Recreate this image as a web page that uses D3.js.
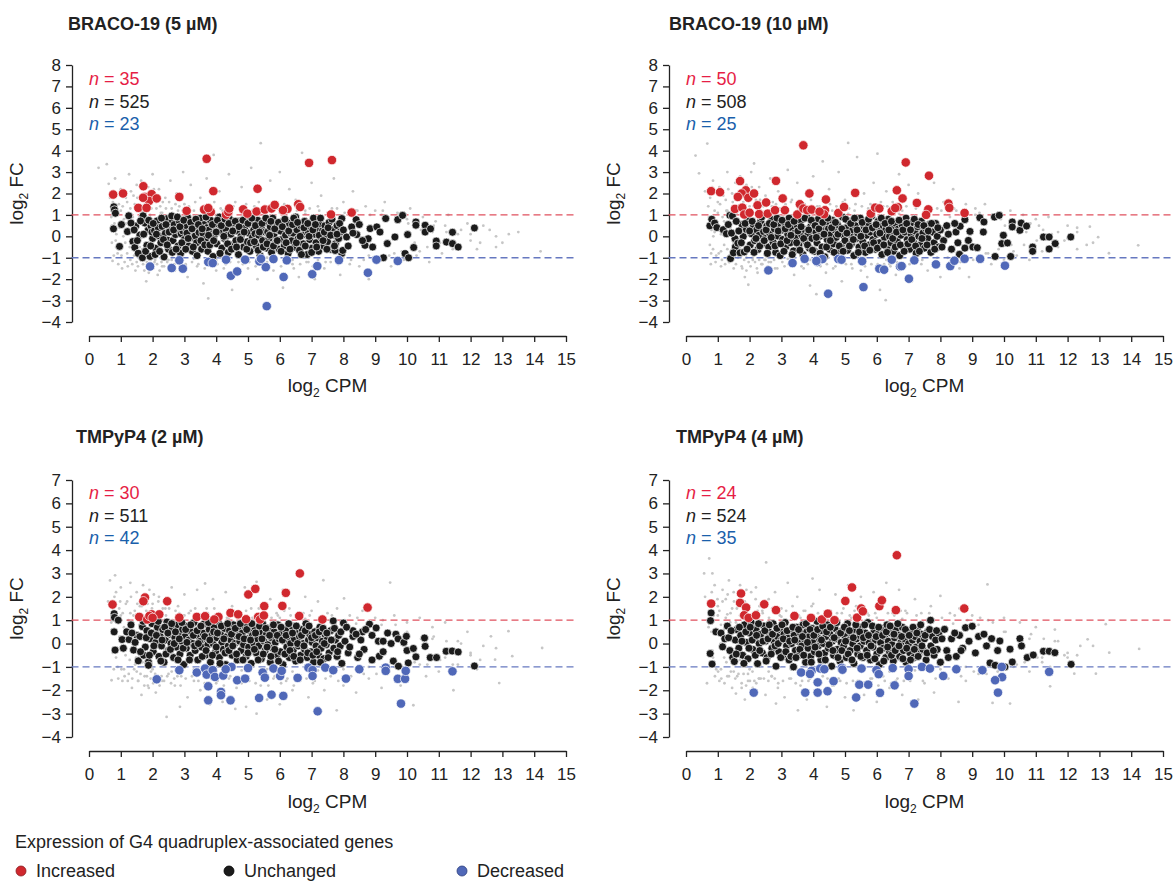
<!DOCTYPE html>
<meta charset="utf-8">
<head>
<script src="https://d3js.org/d3.v7.min.js"></script>
<style>
  body { margin: 0; background: #fff; }
</style>
</head>
<body>

<div id="container"></div>

<script>

// ---- data: [log2 CPM, log2 FC] ----

var titles = ["BRACO-19 (5 µM)", "BRACO-19 (10 µM)", "TMPyP4 (2 µM)", "TMPyP4 (4 µM)"];
// n increased / unchanged / decreased
var counts = [[35, 525, 23], [50, 508, 25], [30, 511, 42], [24, 524, 35]];

var xTicks = [0,1,2,3,4,5,6,7,8,9,10,11,12,13,14,15];
var yTicksTop = [-4,-3,-2,-1,0,1,2,3,4,5,6,7,8];
var yTicksBottom = [-4,-3,-2,-1,0,1,2,3,4,5,6,7];

var legendLabels = ["Increased", "Unchanged", "Decreased"];

// BRACO-19 (5 µM)
var b5Red = [[0.76,1.95],[1.07,2.0],[1.71,2.34],[1.76,1.84],[1.97,1.97],[1.89,1.65],[2.13,1.77],[1.55,1.33],[1.81,1.33],[2.84,1.84],[3.07,1.19],[3.70,3.62],[3.62,1.25],[3.83,1.14],[3.91,2.11],[4.31,1.01],[4.38,1.14],[4.41,1.30],[4.85,1.26],[4.98,1.06],[5.30,2.22],[5.27,1.16],[5.53,1.25],[5.74,1.30],[5.84,1.47],[6.24,1.28],[6.58,1.50],[6.64,1.37],[6.92,3.43],[7.64,3.56],[7.61,1.02],[8.26,1.11],[3.75,1.32],[6.1,1.22],[1.7,1.8]];
var b5Blue = [[1.92,-1.41],[2.60,-1.48],[2.95,-1.51],[2.84,-1.12],[3.75,-1.20],[3.89,-1.25],[4.31,-1.09],[4.46,-1.84],[4.66,-1.64],[4.91,-1.09],[5.36,-1.17],[5.41,-1.05],[5.56,-1.44],[5.59,-3.26],[5.80,-1.06],[6.12,-1.90],[6.22,-1.12],[7.18,-1.39],[7.02,-1.77],[7.86,-1.11],[8.77,-1.70],[9.04,-1.09],[9.71,-1.15]];
var b5Black = [[0.78,1.38],[0.8,1.24],[0.83,1.08],[0.77,0.35],[1.02,0.55],[0.96,-0.47],[1.21,0.22],[1.25,0.96],[1.38,-0.24],[1.47,0.48],[1.44,-0.52],[1.55,-0.8],[1.6,0.06],[1.68,-1.0],[1.7,0.96],[1.76,0.62],[1.82,-0.42],[1.86,0.28],[1.92,-0.94],[1.95,0.48],[2.0,-0.1],[1.98,0.2],[2.06,0.26],[2.1,-0.56],[2.14,0.72],[2.2,0.02],[2.18,0.4],[2.26,-0.3],[2.3,0.46],[2.36,-0.96],[2.4,0.14],[2.44,0.82],[2.48,-0.18],[2.5,-0.6],[2.55,0.35],[2.58,0.62],[2.6,0.95],[2.64,-0.2],[2.68,0.55],[2.72,0.08],[2.76,0.3],[2.8,-0.45],[2.84,0.7],[2.88,-0.8],[2.9,0.12],[2.95,0.25],[3.0,-0.15],[3.02,0.4],[3.06,0.5],[3.1,0.88],[3.14,-0.45],[3.18,0.2],[3.22,-0.05],[3.25,-0.7],[3.3,0.6],[3.34,0.02],[3.38,-0.3],[3.42,0.35],[3.46,0.18],[3.5,0.85],[3.54,-0.6],[3.58,0.15],[3.62,0.55],[3.66,-0.14],[3.7,0.4],[3.74,-0.7],[3.78,0.3],[3.82,0.75],[3.86,0.1],[3.9,-0.94],[3.94,0.05],[3.98,0.45],[4.02,-0.35],[4.06,0.25],[4.1,0.9],[4.14,0.2],[4.18,-0.55],[4.22,0.6],[4.26,-0.1],[4.3,0.35],[4.34,0.05],[4.38,-0.75],[4.42,0.8],[4.46,0.1],[4.5,-0.4],[4.54,0.5],[4.58,0.28],[4.62,-0.2],[4.66,0.25],[4.7,-0.85],[4.74,0.7],[4.78,0.0],[4.82,0.44],[4.86,-0.5],[4.9,0.4],[4.94,0.92],[4.98,-0.25],[5.02,0.15],[5.06,-0.7],[5.1,0.55],[5.14,-0.05],[5.18,0.3],[5.22,0.12],[5.26,-0.45],[5.3,0.75],[5.34,0.05],[5.38,-0.9],[5.42,0.4],[5.46,-0.2],[5.5,0.65],[5.54,0.2],[5.58,-0.55],[5.62,0.2],[5.66,-0.1],[5.7,0.45],[5.74,-0.75],[5.78,0.85],[5.82,0.1],[5.86,-0.35],[5.9,0.55],[5.94,0.3],[5.98,-0.6],[6.02,0.25],[6.06,-0.15],[6.1,0.7],[6.14,-0.45],[6.18,0.05],[6.22,0.4],[6.26,-0.8],[6.3,0.6],[6.34,0.15],[6.38,-0.2],[6.42,0.15],[6.46,-0.5],[6.5,0.9],[6.54,0.3],[6.58,-0.1],[6.62,-0.65],[6.66,0.5],[6.7,0.05],[6.74,-0.35],[6.78,0.7],[6.82,0.2],[6.86,-0.85],[6.9,0.2],[6.94,-0.15],[6.98,0.45],[7.02,-0.55],[7.06,0.85],[7.1,0.1],[7.14,-0.3],[7.18,0.35],[7.22,-0.7],[7.26,0.6],[7.3,-0.05],[7.34,0.25],[7.38,-0.45],[7.42,0.5],[7.46,0.0],[7.5,-0.25],[7.55,0.65],[7.6,-0.6],[7.65,0.3],[7.7,0.05],[7.75,-0.35],[7.8,0.5],[7.85,-0.1],[7.9,0.2],[7.95,-0.8],[7.95,0.83],[7.74,-0.66],[7.98,-0.66],[8.1,-0.03],[8.26,0.44],[8.4,0.78],[8.42,0.08],[8.68,-0.42],[8.78,-0.11],[8.84,0.36],[8.92,-0.5],[9.05,0.44],[9.15,0.2],[9.26,-1.0],[9.33,0.83],[9.38,-0.34],[9.62,-0.03],[9.71,0.78],[9.86,0.98],[9.94,-0.81],[10.02,0.08],[10.05,-1.0],[10.21,-0.52],[10.28,0.67],[10.28,0.52],[10.57,0.52],[10.57,0.2],[10.74,0.35],[10.92,-0.22],[10.92,-0.45],[11.24,-0.27],[11.43,0.19],[11.43,-0.34],[11.61,-0.5],[12.12,0.39],
  [1.32,0.62],[1.42,0.3],[1.52,-0.2],[1.62,0.72],[1.72,0.1],[1.78,-0.7],[1.88,0.75],[1.94,-0.45],[2.02,0.6],[2.08,-0.85],[2.12,0.1],[2.22,-0.7],[2.28,0.85],[2.34,-0.15],[2.42,0.55],[2.46,-0.4],[2.52,0.2],[2.62,-0.75],[2.66,0.3],[2.74,-0.6],[2.78,0.9],[2.86,0.45],[2.92,-0.3],[2.98,0.75],[3.04,-0.6],[3.08,0.15],[3.12,-0.1],[3.2,0.65],[3.24,0.35],[3.28,-0.5],[3.36,0.8],[3.4,-0.9],[3.44,0.55],[3.52,-0.2],[3.56,0.35],[3.64,-0.4],[3.68,0.9],[3.76,0.05],[3.8,-0.4],[3.88,0.55],[3.92,-0.2],[4.0,0.2],[4.04,0.75],[4.12,-0.8],[4.16,0.5],[4.24,0.0],[4.28,0.8],[4.36,-0.35],[4.4,0.6],[4.48,-0.6],[4.52,0.25],[4.6,0.7],[4.64,-0.5],[4.72,0.45],[4.76,-0.15],[4.84,0.75],[4.88,0.2],[4.96,-0.6],[5.0,0.6],[5.08,-0.3],[5.12,0.85],[5.2,-0.25],[5.24,0.5],[5.32,-0.65],[5.36,0.2],[5.44,0.6],[5.48,-0.5],[5.56,0.85],[5.6,-0.35],[5.68,0.05],[5.72,0.7],[5.8,-0.45],[5.84,0.35],[5.92,-0.2],[5.96,0.65],[6.04,-0.7],[6.08,0.45],[6.16,0.8],[6.2,-0.3],[6.28,0.25],[6.32,-0.6],[6.4,0.55],[6.44,0.85],[6.52,-0.3],[6.56,0.65],[6.64,0.0],[6.68,-0.85],[6.76,0.4],[6.8,-0.45],[6.88,0.6],[6.92,0.0],[7.0,-0.75],[7.04,0.3],[7.12,0.55],[7.16,-0.5],[7.24,0.05],[7.28,0.85],[7.36,-0.2],[7.4,0.2],[7.48,-0.6],[7.52,0.4],[7.6,0.05],[7.64,0.8],[7.72,-0.45],[7.8,0.1],[7.88,0.6],[8.0,0.3],[8.15,-0.45],[8.3,0.15],[8.5,0.55],[8.6,-0.2]];
var b5Grey = [[0.3,3.2],[0.56,3.37],[0.62,2.45],[0.66,1.8],[0.7,0.9],[0.72,-0.3],[0.74,-1.15],[0.82,2.7],[0.86,0.1],[0.9,-0.8],[0.94,1.5],[1.0,2.2],[1.04,-1.5],[1.1,0.8],[1.14,-0.3],[1.2,1.6],[1.26,2.9],[1.3,-1.1],[1.34,0.5],[1.4,1.9],[1.46,-1.6],[1.5,2.4],[1.56,1.2],[1.6,-0.5],[1.64,2.6],[1.7,-1.3],[1.76,1.5],[1.8,-2.1],[1.86,2.3],[1.9,-1.5],[1.96,1.3],[2.0,2.9],[2.06,-1.2],[2.1,1.6],[2.16,-1.8],[2.2,2.2],[2.26,1.1],[2.3,-1.4],[2.4,1.8],[2.5,-1.1],[2.56,2.6],[2.6,1.3],[2.7,-1.6],[2.76,2.0],[2.8,1.2],[2.9,-1.3],[2.96,3.0],[3.0,1.5],[3.1,-1.9],[3.2,2.4],[3.3,1.2],[3.4,-1.4],[3.5,1.8],[3.6,-2.2],[3.7,2.7],[3.75,-2.9],[3.8,1.3],[3.92,3.8],[4.0,-1.6],[4.1,2.1],[4.2,1.2],[4.3,-1.3],[4.4,2.9],[4.5,-2.5],[4.6,1.6],[4.7,-1.2],[4.8,2.3],[4.9,1.1],[5.0,-1.5],[5.1,3.2],[5.2,1.4],[5.3,-2.0],[5.4,4.35],[5.5,1.2],[5.6,-1.2],[5.7,2.6],[5.8,-1.6],[5.9,1.5],[6.0,3.0],[6.1,-2.4],[6.2,1.3],[6.3,2.2],[6.4,-1.3],[6.5,1.7],[6.6,-1.9],[6.7,3.9],[6.8,1.2],[6.9,-1.2],[7.0,2.5],[7.1,-2.0],[7.2,1.4],[7.3,1.9],[7.4,-1.5],[7.5,1.1],[7.6,-1.2],[7.7,2.7],[7.8,1.3],[7.9,-1.8],[8.0,1.6],[8.2,-1.3],[8.3,2.1],[8.4,1.2],[8.5,-1.4],[8.7,1.4],[8.8,-2.0],[9.0,1.2],[9.1,-1.2],[9.3,1.6],[9.5,-1.4],[9.7,1.1],[9.9,-1.1],[10.1,1.3],[10.3,-0.9],[10.5,0.9],[10.7,-1.2],[10.9,0.7],[11.1,-0.8],[11.3,1.0],[11.6,-0.4],[11.9,0.6],[12.2,-0.6],[12.6,0.3],[13.0,-0.3],[13.5,0.2],[14.2,-0.7],[0.8,0.6],[0.85,-0.5],[1.0,1.2],[1.2,-0.8],[1.3,1.3],[1.5,-1.2],[1.7,1.2],[2.0,-1.0],[2.3,1.1],[2.6,-1.1],[3.0,1.1],[3.3,-1.05],[3.6,1.1],[4.0,-1.1],[4.4,1.1],[4.8,-1.05],[5.2,1.05],[5.6,-1.0],[6.0,1.1],[6.4,-1.1],[6.8,1.05],[7.2,-1.1],[7.6,1.0],[8.0,-1.0],[8.4,0.9],[8.8,-0.9],[9.2,1.0],[9.6,-0.8],[10.0,0.8],[10.4,-0.7],[10.8,0.2],[11.2,0.5],[11.6,0.1],[12.0,-0.2],[12.4,0.5],[12.8,-0.5],[13.2,0.1],
  [0.72,0.5],[0.75,1.6],[0.78,-0.9],[0.8,2.1],[0.84,-0.2],[0.88,1.0],[0.92,-1.3],[0.96,0.4],[0.98,1.9],[1.02,-0.9],[1.06,1.4],[1.08,0.0],[1.12,-1.2],[1.16,1.8],[1.18,0.6],[1.22,-1.4],[1.24,1.1],[1.28,-0.5],[1.32,2.1],[1.36,-1.3],[1.38,0.9],[1.42,-0.9],[1.44,1.5],[1.48,-0.4],[1.52,1.8],[1.54,-1.4],[1.58,0.9],[1.62,-1.1],[1.66,1.7],[1.68,-0.6],[1.72,2.0],[1.74,-1.6],[1.78,1.1],[1.82,-1.2],[1.84,1.8],[1.88,-1.7],[1.92,1.0],[1.94,-1.3],[1.98,1.6],[2.02,-1.5],[2.04,2.2],[2.08,-1.1],[2.12,1.3],[2.14,-1.3],[2.18,1.9],[2.22,-1.6],[2.24,1.4],[2.28,-1.2],[2.32,1.6],[2.36,-1.4],[2.42,1.3],[2.46,-1.2],[2.52,1.6],[2.58,-1.5],[2.62,1.1],[2.68,-1.3],[2.72,1.5],[2.78,-1.2],[2.84,1.4],[2.88,-1.6],[2.94,1.2],[3.04,-1.3],[3.14,1.4],[3.24,-1.2],[3.34,1.6],[3.44,-1.3],[3.54,1.2],[3.64,-1.5],[3.74,1.4],[3.84,-1.2],[3.94,1.6],[4.04,-1.3],[4.14,1.3],[4.24,-1.5],[4.34,1.2],[4.44,-1.2],[4.54,1.4],[4.64,-1.6],[4.74,1.3],[4.84,-1.3],[4.94,1.5],[5.04,-1.2],[5.14,1.2],[5.24,-1.4],[5.34,1.6],[5.44,-1.3],[5.54,1.3],[5.64,-1.5],[5.74,1.2],[5.84,-1.2],[5.94,1.3],[6.04,-1.4],[6.14,1.5],[6.24,-1.2],[6.34,1.3],[6.44,-1.5],[6.54,1.2],[6.64,-1.3],[6.74,1.4],[6.84,-1.2],[6.94,1.3],[7.04,-1.4],[7.24,1.2],[7.44,-1.2],[7.64,1.3],[7.84,-1.3],[8.04,1.1],[8.24,-1.1],[8.44,1.2],[8.64,-1.1],[8.84,1.0],[9.04,-1.0],[9.24,1.2],[9.44,-0.9],[9.64,0.9],[9.84,-0.7],[10.04,0.6],[10.24,-0.3],[10.44,0.3],[10.64,-0.5],[10.84,0.5],[11.04,-0.3],[11.24,0.2],[11.44,-0.6],[11.7,0.3],[12.0,0.1],[12.3,-0.3],[12.8,0.0]];

// BRACO-19 (10 µM)
var b10Red = [[0.79,2.11],[1.07,2.06],[1.70,2.58],[1.88,2.15],[1.75,2.0],[1.63,1.84],[1.96,1.80],[2.14,2.0],[1.54,1.28],[1.77,1.34],[1.83,1.02],[2.25,1.45],[2.30,1.04],[2.52,1.58],[2.57,1.06],[2.83,2.59],[2.80,1.22],[3.04,1.77],[3.11,1.22],[3.50,1.02],[3.58,1.50],[3.69,1.30],[3.69,4.25],[3.88,2.0],[3.81,1.22],[3.95,1.25],[4.40,1.72],[4.37,1.22],[4.34,1.03],[4.79,1.09],[4.97,1.37],[5.32,2.03],[5.81,1.06],[5.95,1.34],[6.08,1.30],[6.47,1.17],[6.63,2.15],[6.66,1.36],[6.91,3.45],[7.64,2.83],[6.81,1.77],[7.26,1.56],[6.58,1.32],[7.62,1.26],[7.55,1.0],[8.25,1.53],[8.28,1.33],[8.76,1.09],[2.0,1.1],[4.2,1.15]];
var b10Blue = [[2.59,-1.59],[3.35,-1.25],[3.73,-1.05],[4.13,-1.20],[4.21,-1.09],[4.29,-1.06],[4.47,-2.68],[4.79,-1.06],[4.89,-1.09],[5.54,-1.16],[5.58,-2.37],[6.08,-1.51],[6.23,-1.56],[6.47,-1.09],[6.73,-1.41],[6.78,-1.39],[7.01,-1.98],[7.18,-1.12],[7.86,-1.31],[8.31,-1.39],[8.44,-1.14],[8.76,-1.05],[9.25,-1.05],[10.03,-1.37],[4.1,-1.15]];
var b10Black = [[0.75,0.49],[0.81,0.8],[0.9,0.62],[0.97,0.41],[1.17,0.31],[1.27,0.12],[1.38,0.98],[1.4,-1.04],[1.46,0.95],[1.54,-0.11],[1.55,-0.5],[1.49,-0.77],[1.63,-0.32],[1.7,-0.77],[1.8,-0.01],[1.76,0.55],[1.83,-0.73],[1.9,0.32],[1.95,0.8],[2.02,-0.4],[2.06,0.12],[2.12,0.52],[2.16,-0.2],[2.22,0.3],[2.26,-0.62],[2.3,0.05],[2.35,0.7],[2.4,-0.35],[2.44,0.22],[2.5,-0.1],[2.54,0.48],[2.6,-0.5],[2.64,0.1],[2.7,0.78],[2.74,-0.28],[2.78,0.35],[2.82,-0.75],[2.88,0.02],[2.92,0.55],[2.96,-0.9],[3.0,0.28],[3.04,-0.15],[3.1,0.62],[3.14,-0.48],[3.2,0.1],[3.24,0.85],[3.28,-0.3],[3.32,0.4],[3.38,-0.68],[3.42,0.15],[3.46,-0.05],[3.5,0.5],[3.55,-0.4],[3.6,0.72],[3.64,0.05],[3.68,-0.85],[3.72,0.32],[3.76,-0.22],[3.8,0.9],[3.84,0.12],[3.88,-0.55],[3.92,0.45],[3.96,-0.1],[4.0,0.65],[4.04,-0.7],[4.08,0.2],[4.12,-0.3],[4.16,0.8],[4.2,0.0],[4.24,0.42],[4.28,-0.5],[4.32,0.25],[4.36,-0.95],[4.4,0.6],[4.44,-0.15],[4.48,0.35],[4.52,-0.6],[4.56,0.1],[4.6,0.75],[4.64,-0.35],[4.68,0.3],[4.72,-0.05],[4.76,0.55],[4.8,-0.8],[4.84,0.18],[4.88,-0.4],[4.92,0.9],[4.96,0.05],[5.0,-0.2],[5.04,0.4],[5.08,-0.65],[5.12,0.7],[5.16,0.1],[5.2,-0.35],[5.24,0.3],[5.28,-0.9],[5.32,0.5],[5.36,-0.1],[5.4,0.15],[5.44,-0.5],[5.48,0.85],[5.52,0.25],[5.56,-0.25],[5.6,0.45],[5.64,-0.75],[5.68,0.05],[5.72,0.6],[5.76,-0.4],[5.8,0.2],[5.84,0.95],[5.88,-0.15],[5.92,0.35],[5.96,-0.6],[6.0,0.1],[6.04,0.7],[6.08,-0.3],[6.12,0.25],[6.16,-0.85],[6.2,0.5],[6.24,-0.05],[6.28,0.3],[6.32,-0.5],[6.36,0.8],[6.4,0.0],[6.44,-0.3],[6.48,0.45],[6.52,-0.7],[6.56,0.15],[6.6,0.6],[6.64,-0.2],[6.68,0.35],[6.72,-0.9],[6.76,0.05],[6.8,0.5],[6.84,-0.45],[6.88,0.2],[6.92,0.85],[6.96,-0.15],[7.0,0.4],[7.04,-0.6],[7.08,0.1],[7.12,0.65],[7.16,-0.3],[7.2,0.25],[7.24,-0.8],[7.28,0.45],[7.32,0.0],[7.36,-0.4],[7.4,0.7],[7.45,0.15],[7.5,-0.55],[7.55,0.35],[7.6,-0.1],[7.65,0.55],[7.7,-0.75],[7.75,0.2],[7.8,-0.3],[7.85,0.6],[7.9,0.0],[7.95,-0.5],[8.0,0.3],[8.1,-0.2],[8.2,0.5],[8.35,-0.6],[8.49,0.2],[8.62,0.47],[8.6,-0.84],[8.77,0.78],[8.77,-0.55],[8.88,-0.19],[8.93,0.23],[9.02,-0.5],[9.16,-0.53],[9.24,0.87],[9.35,0.2],[9.37,0.67],[9.7,0.9],[9.72,-0.94],[9.85,0.98],[9.93,-0.34],[9.98,0.05],[10.11,-0.31],[10.21,-0.94],[10.26,0.67],[10.26,0.44],[10.5,0.28],[10.54,0.62],[10.71,0.48],[10.9,-0.5],[10.9,-0.7],[11.24,-0.03],[11.42,-0.03],[11.42,-0.59],[11.61,-0.34],[12.1,-0.03],
  [1.33,0.55],[1.43,0.15],[1.58,0.7],[1.66,0.25],[1.74,-0.3],[1.86,0.6],[1.92,-0.6],[2.0,0.25],[2.08,0.7],[2.14,-0.75],[2.2,-0.1],[2.28,0.5],[2.32,-0.45],[2.38,0.9],[2.46,-0.2],[2.52,0.3],[2.56,-0.8],[2.62,0.6],[2.68,-0.05],[2.76,0.55],[2.8,-0.45],[2.86,0.85],[2.9,0.25],[2.98,-0.35],[3.02,0.75],[3.08,-0.7],[3.12,0.35],[3.18,-0.2],[3.22,0.55],[3.3,0.05],[3.34,-0.85],[3.4,0.7],[3.48,-0.3],[3.52,0.25],[3.58,-0.65],[3.62,0.45],[3.7,-0.1],[3.74,0.85],[3.82,-0.4],[3.86,0.3],[3.94,0.75],[3.98,-0.65],[4.06,0.5],[4.1,-0.05],[4.18,0.35],[4.22,-0.8],[4.3,0.65],[4.34,0.1],[4.42,-0.5],[4.46,0.85],[4.54,-0.2],[4.58,0.4],[4.66,-0.75],[4.7,0.65],[4.78,0.1],[4.82,-0.45],[4.9,0.35],[4.94,-0.7],[5.02,0.8],[5.06,0.15],[5.14,-0.45],[5.18,0.6],[5.26,-0.15],[5.3,0.85],[5.38,0.3],[5.42,-0.75],[5.5,0.0],[5.54,0.65],[5.62,-0.45],[5.66,0.3],[5.74,0.8],[5.78,-0.65],[5.86,0.4],[5.9,-0.3],[5.98,0.55],[6.02,-0.55],[6.1,0.15],[6.14,0.85],[6.22,-0.4],[6.26,0.6],[6.34,-0.75],[6.38,0.3],[6.46,0.7],[6.5,-0.1],[6.58,-0.5],[6.62,0.2],[6.7,0.75],[6.74,-0.4],[6.82,0.3],[6.86,-0.7],[6.94,0.6],[6.98,-0.35],[7.06,0.3],[7.1,-0.15],[7.18,0.8],[7.22,-0.45],[7.3,0.55],[7.34,-0.7],[7.42,-0.1],[7.48,0.5],[7.58,-0.4],[7.62,0.25],[7.72,0.6],[7.82,-0.6],[7.92,0.4],[8.05,-0.5],[8.25,0.1],[8.45,0.6],[8.55,-0.3]];
var b10Grey = [[0.3,3.77],[0.67,4.33],[0.41,2.94],[0.6,2.1],[0.7,1.4],[0.75,-0.4],[0.78,-1.3],[0.85,2.6],[0.9,0.2],[0.95,-0.9],[1.0,1.6],[1.05,2.3],[1.1,-1.4],[1.15,0.9],[1.2,-0.4],[1.25,1.7],[1.3,3.0],[1.35,-1.2],[1.4,0.4],[1.45,2.0],[1.5,-1.5],[1.55,2.5],[1.6,1.1],[1.65,-0.6],[1.7,2.8],[1.75,-1.4],[1.8,1.6],[1.85,-1.9],[1.9,2.4],[1.96,-2.26],[2.0,1.4],[2.05,3.0],[2.1,-1.1],[2.14,3.4],[2.2,1.7],[2.25,-1.7],[2.3,2.3],[2.35,1.2],[2.4,-1.3],[2.5,1.9],[2.6,-1.2],[2.65,2.7],[2.7,1.4],[2.8,-1.5],[2.9,2.1],[3.0,1.3],[3.1,-1.4],[3.2,3.1],[3.3,1.6],[3.4,-1.8],[3.5,2.5],[3.6,1.2],[3.7,-1.5],[3.8,1.9],[3.9,-2.3],[4.0,2.8],[4.1,-2.7],[4.2,1.4],[4.3,3.5],[4.4,-1.7],[4.5,2.2],[4.6,1.2],[4.7,-1.4],[4.8,3.0],[4.9,-2.1],[5.1,4.36],[5.0,1.7],[5.2,-1.3],[5.38,3.7],[5.3,1.2],[5.5,-1.6],[5.6,2.0],[5.7,-1.9],[5.8,1.5],[6.02,3.86],[5.9,2.5],[6.1,-2.5],[6.28,-2.98],[6.2,1.4],[6.3,2.1],[6.4,-1.3],[6.5,1.6],[6.6,-1.8],[6.7,2.9],[6.8,1.2],[6.9,-1.4],[7.0,2.4],[7.1,-2.1],[7.2,1.5],[7.3,2.0],[7.4,-1.3],[7.5,1.2],[7.6,-1.6],[7.8,2.5],[7.9,1.3],[8.0,-1.9],[8.1,1.6],[8.3,-1.2],[8.4,2.2],[8.5,1.2],[8.6,-1.5],[8.8,1.5],[8.9,-1.9],[9.1,1.3],[9.2,-1.2],[9.4,1.5],[9.6,-1.3],[9.8,1.0],[10.0,-1.1],[10.2,1.2],[10.4,-0.9],[10.6,1.0],[10.8,-1.1],[11.0,0.8],[11.2,-0.7],[11.4,0.9],[11.7,-0.5],[12.0,0.5],[12.3,-0.6],[12.7,0.45],[12.96,-0.04],[13.3,-0.79],[14.22,-0.42],[0.8,0.3],[0.85,-0.6],[1.0,1.1],[1.1,-0.7],[1.3,1.2],[1.4,-1.1],[1.6,1.3],[1.9,-1.0],[2.2,1.1],[2.5,-1.1],[2.8,1.1],[3.2,-1.05],[3.5,1.1],[3.9,-1.1],[4.3,1.1],[4.7,-1.05],[5.1,1.05],[5.5,-1.0],[5.9,1.1],[6.3,-1.1],[6.7,1.05],[7.1,-1.1],[7.5,1.0],[7.9,-1.0],[8.3,0.9],[8.7,-0.9],[9.1,1.0],[9.5,-0.8],[9.9,0.8],[10.3,-0.7],[10.7,0.2],[11.1,0.5],[11.5,0.1],[11.9,-0.2],[12.3,0.4],[12.6,-0.4],
  [0.72,0.9],[0.76,1.8],[0.79,-0.8],[0.82,2.3],[0.86,0.0],[0.9,1.2],[0.93,-1.2],[0.97,0.6],[1.0,2.0],[1.03,-0.8],[1.07,1.5],[1.1,0.1],[1.13,-1.1],[1.17,1.9],[1.2,0.7],[1.23,-1.3],[1.27,1.2],[1.3,-0.6],[1.33,2.2],[1.37,-1.2],[1.4,1.0],[1.43,-0.8],[1.47,1.6],[1.5,-0.3],[1.53,1.9],[1.57,-1.3],[1.6,0.7],[1.63,-1.0],[1.67,1.8],[1.7,-0.5],[1.73,2.1],[1.77,-1.5],[1.8,1.2],[1.83,-1.1],[1.87,1.9],[1.9,-1.6],[1.93,1.1],[1.97,-1.2],[2.0,1.7],[2.03,-1.4],[2.07,2.3],[2.1,-1.0],[2.13,1.4],[2.17,-1.2],[2.2,2.0],[2.23,-1.5],[2.27,1.5],[2.3,-1.1],[2.33,1.7],[2.37,-1.3],[2.43,1.4],[2.47,-1.1],[2.53,1.7],[2.57,-1.4],[2.63,1.2],[2.67,-1.2],[2.73,1.6],[2.77,-1.1],[2.83,1.5],[2.87,-1.5],[2.93,1.3],[3.03,-1.2],[3.13,1.5],[3.23,-1.3],[3.33,1.7],[3.43,-1.2],[3.53,1.3],[3.63,-1.4],[3.73,1.5],[3.83,-1.3],[3.93,1.7],[4.03,-1.2],[4.13,1.4],[4.23,-1.4],[4.33,1.3],[4.43,-1.3],[4.53,1.5],[4.63,-1.5],[4.73,1.4],[4.83,-1.2],[4.93,1.6],[5.03,-1.3],[5.13,1.3],[5.23,-1.5],[5.33,1.5],[5.43,-1.2],[5.53,1.4],[5.63,-1.4],[5.73,1.3],[5.83,-1.3],[5.93,1.4],[6.03,-1.3],[6.13,1.6],[6.23,-1.3],[6.33,1.4],[6.43,-1.4],[6.53,1.3],[6.63,-1.2],[6.73,1.5],[6.83,-1.3],[6.93,1.4],[7.03,-1.3],[7.23,1.3],[7.43,-1.1],[7.63,1.4],[7.83,-1.2],[8.03,1.2],[8.23,-1.0],[8.43,1.3],[8.63,-1.2],[8.83,1.1],[9.03,-1.1],[9.23,1.1],[9.43,-0.8],[9.63,1.0],[9.83,-0.6],[10.03,0.5],[10.23,-0.4],[10.43,0.4],[10.63,-0.4],[10.83,0.6],[11.03,-0.2],[11.23,0.3],[11.43,-0.5],[11.7,0.2],[12.0,-0.1],[12.3,0.2],[12.8,-0.3]];

// TMPyP4 (2 µM)
var t2Red = [[0.74,1.67],[1.76,1.97],[1.71,1.81],[1.58,1.14],[1.83,1.03],[1.97,1.25],[1.9,1.18],[2.21,1.25],[2.46,1.81],[2.84,1.11],[3.39,1.14],[3.65,1.17],[4.07,1.14],[3.94,1.03],[4.45,1.31],[4.69,1.25],[4.94,1.04],[5.01,2.10],[5.23,2.34],[5.32,1.14],[5.38,1.03],[5.51,1.60],[6.08,1.61],[6.19,2.17],[6.61,1.18],[6.63,3.00],[7.34,1.03],[8.76,1.54],[2.0,1.1],[5.5,1.2]];
var t2Blue = [[2.13,-1.53],[2.84,-1.14],[3.39,-1.24],[3.65,-1.07],[3.70,-1.33],[3.75,-1.83],[3.75,-2.43],[3.89,-1.14],[3.96,-1.43],[4.15,-2.07],[4.15,-2.21],[4.22,-1.37],[4.45,-2.43],[4.48,-1.0],[4.66,-1.57],[4.91,-1.50],[5.35,-2.33],[5.46,-1.24],[5.53,-1.46],[5.74,-2.19],[5.80,-1.07],[6.01,-1.39],[6.06,-1.17],[6.11,-2.24],[6.56,-1.47],[6.90,-1.03],[7.03,-1.14],[7.03,-1.39],[7.19,-2.90],[7.43,-1.03],[7.68,-1.14],[8.08,-1.50],[9.33,-1.03],[9.33,-1.17],[9.71,-1.51],[9.94,-1.51],[9.96,-1.17],[9.81,-2.57],[11.43,-1.19],[4.3,-1.1],[5.0,-1.05],[8.5,-1.1]];
var t2Black = [[0.79,1.28],[0.8,1.12],[0.92,1.0],[0.79,0.5],[0.82,-0.28],[1.04,0.17],[1.08,-0.2],[1.19,0.5],[1.26,0.17],[1.32,0.8],[1.4,-0.28],[1.5,0.35],[1.55,-0.74],[1.6,0.3],[1.68,0.72],[1.72,-0.5],[1.77,-0.15],[1.82,0.55],[1.87,-0.79],[1.87,-0.93],[1.92,0.2],[1.98,0.85],[2.02,-0.35],[2.06,0.45],[2.1,0.05],[2.15,0.7],[2.2,-0.55],[2.24,0.3],[2.28,-0.1],[2.32,0.6],[2.36,-0.8],[2.4,0.15],[2.45,0.92],[2.5,-0.3],[2.54,0.4],[2.58,0.0],[2.62,0.65],[2.66,-0.6],[2.7,0.25],[2.74,-0.15],[2.78,0.8],[2.82,0.45],[2.86,-0.45],[2.9,0.1],[2.94,0.6],[2.98,-0.9],[3.02,0.3],[3.06,-0.2],[3.1,0.75],[3.14,0.15],[3.18,-0.5],[3.22,0.5],[3.26,0.0],[3.3,0.9],[3.34,-0.3],[3.38,0.35],[3.42,-0.7],[3.46,0.6],[3.5,0.1],[3.54,-0.15],[3.58,0.45],[3.62,0.85],[3.66,-0.5],[3.7,0.2],[3.74,-0.05],[3.78,0.6],[3.82,-0.8],[3.86,0.35],[3.9,0.0],[3.94,0.7],[3.98,-0.35],[4.02,0.25],[4.06,0.95],[4.1,-0.6],[4.14,0.4],[4.18,0.05],[4.22,-0.25],[4.26,0.65],[4.3,-0.9],[4.34,0.3],[4.38,-0.1],[4.42,0.55],[4.46,0.15],[4.5,-0.5],[4.54,0.8],[4.58,0.0],[4.62,0.35],[4.66,-0.7],[4.7,0.6],[4.74,0.1],[4.78,-0.3],[4.82,0.45],[4.86,-0.05],[4.9,0.75],[4.94,-0.55],[4.98,0.2],[5.02,-0.15],[5.06,0.55],[5.1,-0.85],[5.14,0.35],[5.18,0.0],[5.22,0.7],[5.26,-0.4],[5.3,0.2],[5.34,-0.1],[5.38,0.5],[5.42,-0.65],[5.46,0.85],[5.5,0.1],[5.54,-0.3],[5.58,0.4],[5.62,-0.05],[5.66,0.65],[5.7,-0.8],[5.74,0.25],[5.78,-0.2],[5.82,0.5],[5.86,0.05],[5.9,-0.5],[5.94,0.8],[5.98,0.2],[6.02,-0.35],[6.06,0.45],[6.1,-0.9],[6.14,0.1],[6.18,0.6],[6.22,-0.15],[6.26,0.3],[6.3,-0.6],[6.34,0.0],[6.38,0.75],[6.42,-0.3],[6.46,0.2],[6.5,-0.75],[6.54,0.45],[6.58,-0.1],[6.62,0.3],[6.66,-0.5],[6.7,0.6],[6.74,0.0],[6.78,-0.25],[6.82,0.85],[6.86,-0.6],[6.9,0.15],[6.94,0.4],[6.98,-0.35],[7.02,0.05],[7.06,-0.8],[7.1,0.5],[7.14,-0.1],[7.18,0.25],[7.22,-0.5],[7.26,0.7],[7.3,-0.2],[7.34,0.1],[7.38,-0.65],[7.42,0.4],[7.46,-0.05],[7.5,0.2],[7.55,-0.4],[7.6,0.55],[7.68,0.97],[7.7,-0.2],[7.75,0.15],[7.8,-0.55],[7.85,0.35],[7.9,-0.1],[7.95,-0.85],[8.0,0.88],[8.05,0.1],[8.15,-0.4],[8.3,0.3],[8.3,0.55],[8.45,-0.6],[8.55,0.15],[8.6,0.5],[8.65,-0.25],[8.82,0.83],[8.9,0.35],[8.9,-0.7],[9.03,0.67],[9.1,0.1],[9.13,-0.54],[9.25,-0.35],[9.25,0.1],[9.39,0.45],[9.5,0.0],[9.57,-0.75],[9.65,0.4],[9.72,0.2],[9.73,-0.97],[9.9,0.05],[9.98,0.31],[10.0,-0.3],[10.04,-0.83],[10.2,-0.21],[10.28,-0.57],[10.55,0.24],[10.57,-0.12],[10.73,-0.6],[10.93,-0.6],[11.23,-0.33],[11.42,-0.32],[11.61,-0.36],[12.12,-0.96],
  [1.35,0.45],[1.45,0.05],[1.62,-0.35],[1.7,0.95],[1.8,0.25],[1.9,-0.5],[1.96,0.45],[2.04,-0.1],[2.12,0.35],[2.18,0.95],[2.26,-0.75],[2.3,0.15],[2.38,0.7],[2.42,-0.45],[2.48,0.45],[2.56,-0.25],[2.6,0.85],[2.68,0.0],[2.72,0.5],[2.8,-0.7],[2.84,0.2],[2.92,0.9],[2.96,-0.2],[3.04,0.6],[3.08,0.05],[3.16,-0.7],[3.2,0.8],[3.28,0.35],[3.32,-0.1],[3.4,0.55],[3.44,0.0],[3.52,0.75],[3.56,-0.55],[3.64,0.3],[3.68,-0.3],[3.76,0.9],[3.8,0.15],[3.88,-0.5],[3.92,0.5],[4.0,-0.15],[4.04,0.45],[4.12,-0.85],[4.16,0.75],[4.24,0.2],[4.28,-0.4],[4.36,0.85],[4.4,-0.3],[4.48,0.4],[4.52,-0.1],[4.6,0.65],[4.64,-0.45],[4.72,0.3],[4.76,0.85],[4.84,-0.7],[4.88,0.2],[4.96,0.6],[5.0,-0.4],[5.08,0.15],[5.12,0.85],[5.2,-0.25],[5.24,0.45],[5.32,-0.7],[5.36,0.75],[5.44,0.2],[5.48,-0.45],[5.56,0.65],[5.6,-0.15],[5.68,0.35],[5.72,-0.55],[5.8,0.8],[5.84,-0.25],[5.92,0.35],[5.96,-0.75],[6.04,0.7],[6.08,0.15],[6.16,-0.45],[6.2,0.35],[6.28,0.85],[6.32,-0.3],[6.4,0.45],[6.44,-0.55],[6.52,0.75],[6.56,0.0],[6.64,-0.7],[6.68,0.35],[6.76,-0.1],[6.8,0.55],[6.88,-0.4],[6.92,0.75],[7.0,0.25],[7.04,-0.5],[7.12,0.35],[7.16,-0.35],[7.24,0.5],[7.28,-0.8],[7.36,0.65],[7.4,0.0],[7.48,0.45],[7.52,-0.6],[7.62,0.15],[7.72,0.65],[7.82,-0.35],[7.92,0.5],[8.1,0.7],[8.2,-0.15],[8.4,0.4],[8.5,-0.45],[8.7,0.6]];
var t2Grey = [[0.66,2.7],[0.82,2.92],[0.6,1.8],[0.7,0.9],[0.71,-1.57],[0.75,-0.4],[0.85,2.2],[0.9,-1.0],[0.95,1.5],[1.0,2.4],[1.05,-1.6],[1.1,0.7],[1.15,-0.5],[1.2,1.8],[1.25,-1.3],[1.3,2.6],[1.35,-1.9],[1.4,1.2],[1.45,-0.9],[1.5,2.2],[1.55,-1.6],[1.6,1.6],[1.65,-2.2],[1.7,2.5],[1.75,-1.4],[1.8,1.4],[1.85,-1.8],[1.9,2.3],[1.95,-1.2],[2.0,1.7],[2.1,-2.1],[2.2,2.0],[2.3,-1.6],[2.44,-3.14],[2.4,1.5],[2.5,-1.3],[2.6,2.4],[2.7,-1.8],[2.86,-2.71],[2.8,1.6],[2.9,-1.4],[3.0,2.1],[3.1,-2.3],[3.2,1.4],[3.3,-1.6],[3.4,2.3],[3.5,-2.0],[3.65,2.57],[3.6,-1.4],[3.7,1.5],[3.8,-2.6],[3.9,1.9],[4.0,-1.7],[4.1,1.3],[4.2,-2.5],[4.3,2.2],[4.4,-1.5],[4.5,1.6],[4.6,-2.8],[4.7,1.3],[4.8,-1.7],[4.94,-2.71],[4.9,2.4],[5.0,-1.4],[5.1,1.5],[5.27,-3.0],[5.27,2.64],[5.4,-1.8],[5.5,1.4],[5.6,-2.4],[5.7,1.9],[5.8,-1.5],[5.9,1.3],[6.0,-2.6],[6.1,2.3],[6.2,-1.6],[6.3,1.5],[6.4,-2.0],[6.5,1.2],[6.6,-1.5],[6.8,2.0],[6.9,-2.3],[7.0,1.4],[7.1,-1.6],[7.2,1.8],[7.37,2.71],[7.4,-2.0],[7.5,1.3],[7.6,-1.4],[7.79,-2.86],[7.8,1.5],[8.02,1.93],[8.0,-1.8],[8.2,1.2],[8.4,-2.1],[8.6,1.4],[8.8,-1.5],[9.0,1.1],[9.2,-1.9],[9.47,2.61],[9.4,-1.3],[9.6,1.2],[9.8,-1.8],[10.0,0.9],[10.2,-2.64],[10.4,1.1],[10.6,-1.4],[10.8,0.7],[11.0,-1.2],[11.2,0.9],[11.46,-2.0],[11.6,-0.9],[11.9,0.5],[12.2,-1.1],[12.64,0.31],[12.77,-0.69],[12.9,-1.69],[13.19,0.53],[13.31,-0.54],[14.25,-0.19],[0.8,0.4],[0.85,-0.6],[1.0,1.2],[1.1,-1.1],[1.3,1.3],[1.5,-1.2],[1.7,1.2],[2.0,-1.1],[2.3,1.2],[2.6,-1.2],[3.0,1.2],[3.3,-1.1],[3.6,1.1],[4.0,-1.2],[4.4,1.1],[4.8,-1.15],[5.2,1.1],[5.6,-1.1],[6.0,1.1],[6.4,-1.2],[6.8,1.05],[7.2,-1.15],[7.6,0.95],[8.0,-1.1],[8.4,0.85],[8.8,-1.0],[9.2,0.8],[9.6,-1.0],[10.0,0.5],[10.4,-0.9],[10.8,0.2],[11.2,-0.6],[11.6,0.1],[12.0,-0.4],[12.4,-0.1],
  [0.72,0.6],[0.75,1.5],[0.78,-1.1],[0.8,2.0],[0.84,-0.4],[0.88,1.1],[0.92,-1.5],[0.96,0.3],[0.98,1.8],[1.02,-1.1],[1.06,1.3],[1.08,-0.1],[1.12,-1.4],[1.16,1.7],[1.18,0.5],[1.22,-1.6],[1.24,1.0],[1.28,-0.7],[1.32,2.0],[1.36,-1.5],[1.38,0.8],[1.42,-1.1],[1.44,1.4],[1.48,-0.6],[1.52,1.7],[1.54,-1.6],[1.58,0.8],[1.62,-1.3],[1.66,1.6],[1.68,-0.8],[1.72,1.9],[1.74,-1.8],[1.78,1.0],[1.82,-1.4],[1.84,1.7],[1.88,-1.9],[1.92,0.9],[1.94,-1.5],[1.98,1.5],[2.02,-1.7],[2.04,2.1],[2.08,-1.3],[2.12,1.2],[2.14,-1.5],[2.18,1.8],[2.22,-1.8],[2.24,1.3],[2.28,-1.4],[2.32,1.5],[2.36,-1.6],[2.42,1.2],[2.46,-1.4],[2.52,1.5],[2.58,-1.7],[2.62,1.0],[2.68,-1.5],[2.72,1.4],[2.78,-1.4],[2.84,1.3],[2.88,-1.8],[2.94,1.1],[3.04,-1.5],[3.14,1.3],[3.24,-1.4],[3.34,1.5],[3.44,-1.6],[3.54,1.1],[3.64,-1.7],[3.74,1.3],[3.84,-1.5],[3.94,1.5],[4.04,-1.6],[4.14,1.2],[4.24,-1.8],[4.34,1.1],[4.44,-1.4],[4.54,1.3],[4.64,-1.9],[4.74,1.2],[4.84,-1.5],[4.94,1.4],[5.04,-1.6],[5.14,1.1],[5.24,-1.7],[5.34,1.5],[5.44,-1.5],[5.54,1.2],[5.64,-1.8],[5.74,1.1],[5.84,-1.4],[5.94,1.2],[6.04,-1.7],[6.14,1.4],[6.24,-1.5],[6.34,1.2],[6.44,-1.8],[6.54,1.1],[6.64,-1.6],[6.74,1.3],[6.84,-1.5],[6.94,1.2],[7.04,-1.7],[7.24,1.1],[7.44,-1.5],[7.64,1.2],[7.84,-1.6],[8.04,1.0],[8.24,-1.4],[8.44,1.1],[8.64,-1.3],[8.84,0.9],[9.04,-1.3],[9.24,1.0],[9.44,-1.2],[9.64,0.8],[9.84,-1.0],[10.04,0.4],[10.24,-0.8],[10.44,0.2],[10.64,-0.9],[10.84,0.3],[11.04,-0.7],[11.24,0.1],[11.44,-0.9],[11.7,0.0],[12.0,-0.5],[12.3,-0.7],[12.8,-0.2]];

// TMPyP4 (4 µM)
var t4Red = [[0.79,1.71],[1.73,2.14],[1.70,1.74],[1.89,1.54],[1.83,1.21],[1.97,1.10],[2.20,1.21],[2.46,1.68],[2.83,1.43],[3.41,1.18],[3.93,1.10],[4.27,1.03],[4.46,1.28],[4.67,1.0],[5.01,1.82],[5.22,2.40],[5.38,1.11],[5.51,1.50],[5.56,1.38],[6.08,1.60],[6.16,1.85],[6.60,1.43],[6.63,3.78],[8.75,1.50]];
var t4Blue = [[2.13,-2.10],[3.62,-1.24],[3.95,-1.17],[4.22,-1.07],[4.14,-1.66],[3.75,-2.10],[4.14,-2.10],[4.45,-2.04],[4.64,-1.61],[4.90,-1.04],[4.92,-1.12],[5.35,-2.31],[5.45,-1.76],[5.52,-1.07],[5.73,-1.76],[5.99,-1.14],[6.06,-1.31],[6.10,-2.11],[6.56,-1.79],[7.00,-1.10],[7.00,-1.39],[7.18,-2.57],[7.42,-1.0],[7.67,-1.07],[8.09,-1.39],[9.32,-1.14],[9.93,-1.0],[9.94,-1.44],[9.72,-1.57],[9.81,-2.10],[11.42,-1.21],[4.35,-1.1],[6.5,-1.05],[8.5,-1.1],[3.9,-1.3]];
var t4Black = [[0.79,1.31],[0.77,0.98],[0.76,-0.43],[0.82,-0.88],[0.94,0.5],[1.1,0.45],[1.15,-0.14],[1.22,0.2],[1.3,0.75],[1.38,-0.3],[1.47,-0.6],[1.52,-0.77],[1.55,0.15],[1.6,0.6],[1.66,-0.2],[1.72,0.35],[1.78,-0.5],[1.84,0.8],[1.9,0.05],[1.95,-0.65],[2.0,0.45],[2.05,0.9],[2.1,-0.25],[2.15,0.2],[2.2,0.6],[2.25,-0.86],[2.3,0.0],[2.35,0.4],[2.4,-0.4],[2.45,0.75],[2.5,0.1],[2.55,-0.6],[2.6,0.5],[2.65,0.25],[2.7,-0.2],[2.74,0.85],[2.78,0.05],[2.83,-0.97],[2.88,0.3],[2.92,-0.35],[2.96,0.6],[3.0,0.15],[3.04,-0.55],[3.08,0.4],[3.12,0.9],[3.16,-0.1],[3.2,0.25],[3.24,-0.7],[3.28,0.55],[3.32,0.0],[3.38,-1.0],[3.4,0.35],[3.44,-0.3],[3.48,0.7],[3.52,0.1],[3.56,-0.5],[3.6,0.45],[3.64,-0.1],[3.68,0.8],[3.72,0.2],[3.76,-0.8],[3.8,0.5],[3.84,-0.2],[3.88,0.3],[3.92,-0.55],[3.96,0.65],[4.0,0.05],[4.04,-0.35],[4.08,0.4],[4.12,0.95],[4.16,-0.1],[4.2,0.2],[4.24,-0.7],[4.28,0.55],[4.32,0.0],[4.36,-0.4],[4.4,0.3],[4.44,0.8],[4.48,-0.2],[4.52,0.45],[4.58,-0.97],[4.6,0.1],[4.64,-0.5],[4.68,0.65],[4.72,0.2],[4.76,-0.25],[4.8,0.4],[4.84,-0.75],[4.88,0.05],[4.92,0.55],[4.96,-0.1],[5.0,0.3],[5.04,-0.6],[5.08,0.85],[5.12,0.15],[5.16,-0.3],[5.2,0.45],[5.24,0.0],[5.28,-0.85],[5.32,0.6],[5.36,0.2],[5.4,-0.45],[5.44,0.35],[5.48,-0.1],[5.52,0.7],[5.56,-0.6],[5.6,0.1],[5.64,0.45],[5.68,-0.3],[5.72,0.9],[5.76,0.05],[5.8,-0.7],[5.84,0.3],[5.88,-0.15],[5.92,0.55],[5.96,0.15],[6.0,-0.45],[6.04,0.4],[6.08,-0.9],[6.12,0.05],[6.16,0.65],[6.2,-0.2],[6.24,0.3],[6.28,-0.6],[6.32,0.8],[6.36,0.1],[6.4,-0.35],[6.44,0.45],[6.48,-0.05],[6.52,-0.75],[6.56,0.25],[6.6,0.6],[6.64,-0.2],[6.68,0.35],[6.72,-0.55],[6.76,0.05],[6.8,0.7],[6.84,-0.3],[6.88,0.2],[6.92,-0.8],[6.96,0.45],[7.0,0.0],[7.04,-0.4],[7.08,0.55],[7.12,0.15],[7.16,-0.6],[7.2,0.3],[7.24,-0.15],[7.28,0.65],[7.32,-0.45],[7.36,0.1],[7.4,0.4],[7.45,-0.25],[7.5,0.2],[7.55,-0.7],[7.6,0.5],[7.69,1.0],[7.7,-0.1],[7.75,0.3],[7.8,-0.5],[7.85,0.15],[7.9,-0.25],[7.95,0.45],[8.0,-0.8],[8.13,0.61],[8.2,-0.3],[8.35,0.2],[8.5,-0.55],[8.6,0.35],[8.79,0.68],[8.7,-0.2],[8.9,0.1],[9.0,0.74],[9.1,-0.4],[9.2,0.3],[9.37,0.4],[9.45,-0.1],[9.56,-0.83],[9.61,0.21],[9.72,-0.93],[9.8,-0.3],[9.87,0.11],[10.03,-1.0],[10.19,-0.24],[10.26,-0.79],[10.5,0.21],[10.55,-0.1],[10.73,-0.6],[10.92,-0.49],[11.24,-0.33],[11.42,-0.33],[11.6,-0.39],[12.11,-0.89],
  [1.34,0.25],[1.42,0.55],[1.58,-0.45],[1.68,0.7],[1.76,0.1],[1.82,-0.85],[1.88,0.5],[1.98,-0.2],[2.02,0.7],[2.08,0.15],[2.18,-0.5],[2.22,0.35],[2.28,0.85],[2.32,-0.3],[2.42,0.1],[2.48,0.55],[2.52,-0.75],[2.58,0.2],[2.62,0.8],[2.68,-0.45],[2.72,0.4],[2.8,-0.1],[2.86,0.65],[2.9,0.0],[2.98,-0.6],[3.02,0.8],[3.06,0.2],[3.14,-0.35],[3.18,0.55],[3.26,0.1],[3.3,-0.55],[3.36,0.7],[3.42,0.15],[3.46,-0.6],[3.54,0.6],[3.58,-0.25],[3.66,0.3],[3.7,-0.5],[3.78,0.85],[3.82,0.05],[3.9,0.6],[3.94,-0.8],[4.02,0.35],[4.06,-0.15],[4.14,0.6],[4.18,-0.45],[4.26,0.15],[4.3,0.75],[4.38,-0.7],[4.42,0.5],[4.5,-0.05],[4.54,0.7],[4.62,-0.3],[4.66,0.25],[4.74,0.9],[4.78,-0.6],[4.86,0.45],[4.9,-0.3],[4.98,0.7],[5.02,0.1],[5.1,-0.45],[5.14,0.55],[5.22,-0.7],[5.26,0.25],[5.34,0.8],[5.38,-0.2],[5.46,0.5],[5.5,-0.55],[5.58,0.25],[5.62,0.8],[5.7,-0.5],[5.74,0.35],[5.82,-0.1],[5.86,0.75],[5.94,-0.65],[5.98,0.3],[6.06,0.7],[6.1,-0.3],[6.18,0.35],[6.22,-0.75],[6.3,0.5],[6.34,-0.15],[6.42,0.75],[6.46,-0.5],[6.54,0.4],[6.58,-0.3],[6.66,0.85],[6.7,-0.1],[6.78,0.3],[6.82,-0.65],[6.9,0.6],[6.94,-0.2],[7.02,0.35],[7.06,-0.7],[7.14,0.7],[7.18,-0.25],[7.26,0.45],[7.3,-0.55],[7.38,0.8],[7.42,-0.1],[7.52,0.35],[7.58,-0.4],[7.66,0.6],[7.78,-0.3],[7.88,0.55],[8.05,0.2],[8.25,-0.6],[8.45,0.45],[8.65,-0.3]];
var t4Grey = [[0.57,3.0],[0.73,3.64],[0.83,3.0],[0.6,2.0],[0.66,-1.7],[0.7,1.0],[0.75,-0.5],[0.9,2.5],[0.95,-1.1],[1.0,1.6],[1.05,-1.6],[1.1,0.8],[1.15,2.3],[1.2,-0.6],[1.25,1.9],[1.3,-1.4],[1.35,2.7],[1.4,1.3],[1.45,-1.9],[1.5,2.2],[1.57,-2.14],[1.6,1.5],[1.65,-1.3],[1.7,2.5],[1.75,-1.7],[1.8,1.7],[1.85,-2.4],[1.9,2.3],[1.95,-1.3],[2.0,1.6],[2.1,-1.9],[2.2,2.4],[2.3,-1.5],[2.4,1.4],[2.52,3.47],[2.5,-2.2],[2.6,1.9],[2.7,-1.4],[2.83,-2.57],[2.8,2.2],[2.9,-1.7],[3.0,1.5],[3.1,-2.3],[3.2,2.6],[3.3,-1.5],[3.4,1.3],[3.52,-2.86],[3.5,2.0],[3.6,-1.8],[3.7,1.4],[3.8,-2.4],[3.98,2.78],[3.9,-1.5],[4.0,1.7],[4.1,-2.0],[4.2,2.3],[4.3,-1.4],[4.43,-2.71],[4.5,1.4],[4.6,-1.8],[4.7,2.1],[4.8,-1.5],[4.9,1.3],[5.0,-2.3],[5.1,2.5],[5.27,-2.86],[5.3,1.4],[5.4,-1.6],[5.5,2.0],[5.6,-2.2],[5.7,1.3],[5.8,-1.5],[5.9,2.2],[6.0,-2.5],[6.1,1.5],[6.2,-1.4],[6.3,2.6],[6.4,-1.9],[6.5,1.3],[6.6,-1.6],[6.7,2.3],[6.8,-2.2],[6.9,1.4],[7.0,-1.5],[7.2,1.9],[7.3,-2.4],[7.4,1.3],[7.5,-1.7],[7.7,1.6],[7.8,-2.1],[8.0,2.04],[8.1,-1.4],[8.3,1.3],[8.57,-2.5],[8.6,1.5],[8.8,-1.6],[9.0,1.2],[9.2,-1.3],[9.48,2.53],[9.64,-2.54],[9.5,1.0],[9.8,-1.2],[10.0,1.1],[10.19,-2.57],[10.3,-1.0],[10.5,0.9],[10.8,-1.2],[11.0,0.7],[11.2,-0.8],[11.45,-1.83],[11.6,0.6],[11.9,-0.5],[12.21,-1.29],[12.63,0.18],[12.89,-1.29],[13.2,0.83],[13.31,-0.39],[14.25,-0.23],[0.8,0.5],[0.85,-0.6],[1.0,1.2],[1.1,-1.1],[1.3,1.25],[1.5,-1.2],[1.7,1.2],[2.0,-1.1],[2.3,1.2],[2.6,-1.2],[3.0,1.15],[3.3,-1.1],[3.6,1.1],[4.0,-1.2],[4.4,1.1],[4.8,-1.15],[5.2,1.1],[5.6,-1.1],[6.0,1.1],[6.4,-1.2],[6.8,1.05],[7.2,-1.15],[7.6,0.95],[8.0,-1.1],[8.4,0.85],[8.8,-1.0],[9.2,0.8],[9.6,-1.0],[10.0,0.5],[10.4,-0.9],[10.8,0.2],[11.2,-0.6],[11.6,0.1],[12.0,-0.4],[12.4,-0.1],
  [0.71,0.7],[0.74,1.7],[0.77,-1.0],[0.81,2.2],[0.83,-0.3],[0.87,1.2],[0.91,-1.4],[0.95,0.4],[0.99,1.9],[1.01,-1.2],[1.05,1.4],[1.09,0.0],[1.11,-1.5],[1.15,1.8],[1.19,0.6],[1.21,-1.7],[1.25,1.1],[1.27,-0.8],[1.31,2.1],[1.35,-1.4],[1.39,0.9],[1.41,-1.2],[1.45,1.5],[1.47,-0.5],[1.51,1.8],[1.55,-1.5],[1.57,0.9],[1.61,-1.4],[1.65,1.7],[1.69,-0.7],[1.71,2.0],[1.75,-1.9],[1.79,1.1],[1.81,-1.3],[1.85,1.8],[1.89,-1.8],[1.91,1.0],[1.95,-1.6],[1.99,1.6],[2.01,-1.6],[2.05,2.2],[2.09,-1.2],[2.11,1.3],[2.15,-1.6],[2.19,1.9],[2.21,-1.7],[2.25,1.4],[2.29,-1.5],[2.31,1.6],[2.35,-1.5],[2.41,1.3],[2.45,-1.5],[2.51,1.6],[2.59,-1.6],[2.61,1.1],[2.69,-1.4],[2.71,1.5],[2.79,-1.5],[2.85,1.4],[2.89,-1.9],[2.95,1.2],[3.05,-1.6],[3.15,1.4],[3.25,-1.5],[3.35,1.6],[3.45,-1.7],[3.55,1.2],[3.65,-1.6],[3.75,1.4],[3.85,-1.6],[3.95,1.6],[4.05,-1.7],[4.15,1.3],[4.25,-1.7],[4.35,1.2],[4.45,-1.5],[4.55,1.4],[4.65,-1.8],[4.75,1.3],[4.85,-1.6],[4.95,1.5],[5.05,-1.7],[5.15,1.2],[5.25,-1.6],[5.35,1.6],[5.45,-1.6],[5.55,1.3],[5.65,-1.7],[5.75,1.2],[5.85,-1.5],[5.95,1.3],[6.05,-1.8],[6.15,1.5],[6.25,-1.6],[6.35,1.3],[6.45,-1.7],[6.55,1.2],[6.65,-1.5],[6.75,1.4],[6.85,-1.6],[6.95,1.3],[7.05,-1.6],[7.25,1.2],[7.45,-1.6],[7.65,1.3],[7.85,-1.5],[8.05,1.1],[8.25,-1.5],[8.45,1.2],[8.65,-1.4],[8.85,1.0],[9.05,-1.2],[9.25,1.1],[9.45,-1.3],[9.65,0.9],[9.85,-1.1],[10.05,0.5],[10.25,-0.9],[10.45,0.3],[10.65,-0.8],[10.85,0.4],[11.05,-0.6],[11.25,0.2],[11.45,-1.0],[11.7,0.1],[12.0,-0.6],[12.3,-0.5],[12.8,-0.1]];

// ---- layout ----

var width = 1175, height = 881;
var font = '"Liberation Sans", Arial, Helvetica, sans-serif';

var colRed = '#d0282e', colBlack = '#1b1b1b', colBlue = '#5068b8', colGrey = '#c6c6c6';
var nColors = ['#e61e45', '#222222', '#1a5fab'];

var panels = [
    {title: titles[0], n: counts[0], grey: b5Grey, black: b5Black, red: b5Red, blue: b5Blue},
    {title: titles[1], n: counts[1], grey: b10Grey, black: b10Black, red: b10Red, blue: b10Blue},
    {title: titles[2], n: counts[2], grey: t2Grey, black: t2Black, red: t2Red, blue: t2Blue},
    {title: titles[3], n: counts[3], grey: t4Grey, black: t4Black, red: t4Red, blue: t4Blue}
];

var topRow = {yTicks: yTicksTop, yDomain: [-4, 8], yRange: [322, 65], axisY: 336, titleY: 30, nY: [85, 107.5, 130], xlabY: 392, ylabY: 193.5};
var botRow = {yTicks: yTicksBottom, yDomain: [-4, 7], yRange: [737, 480], axisY: 751, titleY: 443, nY: [499, 521.5, 544], xlabY: 808, ylabY: 608.5};
var layout = [
    {dx: 0,   titleX: 68,  row: topRow},
    {dx: 597, titleX: 669, row: topRow},
    {dx: 0,   titleX: 76,  row: botRow},
    {dx: 597, titleX: 676, row: botRow}
];

var svg = d3.select('#container')
  .append('svg')
  .attr('width', width)
  .attr('height', height)
  .style('display', 'block');

function styleAxis(sel) {
    sel.attr('font-size', 17).attr('font-family', font).style('color', '#222');
    sel.select('.domain').attr('stroke-width', 1.3);
    sel.selectAll('.tick line').attr('stroke-width', 1.3);
}

panels.forEach(function(p, i) {
    var L = layout[i], R = L.row;
    var g = svg.append('g');

    var x = d3.scaleLinear().domain([0, 15]).range([L.dx + 89, L.dx + 566]);
    var y = d3.scaleLinear().domain(R.yDomain).range(R.yRange);

    // title
    g.append('text')
      .attr('x', L.titleX).attr('y', R.titleY)
      .attr('font-family', font).attr('font-size', 18).attr('font-weight', 'bold')
      .attr('fill', '#222')
      .text(p.title);

    // axes
    g.append('g')
      .attr('transform', 'translate(0,' + R.axisY + ')')
      .call(d3.axisBottom(x).tickValues(xTicks).tickSize(6).tickSizeOuter(0).tickPadding(11))
      .call(styleAxis);

    g.append('g')
      .attr('transform', 'translate(' + (L.dx + 72) + ',0)')
      .call(d3.axisLeft(y).tickValues(R.yTicks).tickSize(6).tickSizeOuter(0).tickPadding(5).tickFormat(d3.format('d')))
      .call(styleAxis);

    // axis titles
    var xl = g.append('text')
      .attr('x', x(7.5)).attr('y', R.xlabY)
      .attr('text-anchor', 'middle')
      .attr('font-family', font).attr('font-size', 19).attr('fill', '#222');
    xl.append('tspan').text('log');
    xl.append('tspan').attr('font-size', 12).attr('dy', 5).text('2');
    xl.append('tspan').attr('dy', -5).text(' CPM');

    var yl = g.append('text')
      .attr('transform', 'translate(' + (L.dx + 23) + ',' + R.ylabY + ') rotate(-90)')
      .attr('text-anchor', 'middle')
      .attr('font-family', font).attr('font-size', 19).attr('fill', '#222');
    yl.append('tspan').text('log');
    yl.append('tspan').attr('font-size', 12).attr('dy', 5).text('2');
    yl.append('tspan').attr('dy', -5).text(' FC');

    // grey background genes
    g.append('g').selectAll('circle')
      .data(p.grey).enter().append('circle')
      .attr('cx', function(d) { return x(d[0]); })
      .attr('cy', function(d) { return y(d[1]); })
      .attr('r', 1.4)
      .attr('fill', colGrey);

    // threshold lines at +/-1
    [[1, '#e0505e'], [-1, '#6678c0']].forEach(function(t) {
        g.append('line')
          .attr('x1', x(-0.55)).attr('x2', x(15.3))
          .attr('y1', y(t[0])).attr('y2', y(t[0]))
          .attr('stroke', t[1]).attr('stroke-width', 1.3)
          .attr('stroke-dasharray', '7,4');
    });

    function dots(data, r, fill) {
        g.append('g').selectAll('circle')
          .data(data).enter().append('circle')
          .attr('cx', function(d) { return x(d[0]); })
          .attr('cy', function(d) { return y(d[1]); })
          .attr('r', r)
          .attr('fill', fill)
          .attr('stroke', '#fff')
          .attr('stroke-width', 0.7);
    }
    dots(p.black, 4.0, colBlack);
    dots(p.blue, 4.7, colBlue);
    dots(p.red, 4.7, colRed);

    // n labels
    p.n.forEach(function(c, k) {
        var t = g.append('text')
          .attr('x', L.dx + 89).attr('y', R.nY[k])
          .attr('font-family', font).attr('font-size', 18)
          .attr('fill', nColors[k]);
        t.append('tspan').attr('font-style', 'italic').text('n');
        t.append('tspan').text(' = ' + c);
    });
});

// legend
svg.append('text')
  .attr('x', 15).attr('y', 848)
  .attr('font-family', font).attr('font-size', 18).attr('fill', '#222')
  .text('Expression of G4 quadruplex-associated genes');

var legendX = [21, 229, 462];
var legendFill = [colRed, colBlack, colBlue];
var legendStroke = ['#8a1c20', '#000', '#2c3f7e'];
legendLabels.forEach(function(lab, k) {
    svg.append('circle')
      .attr('cx', legendX[k]).attr('cy', 871)
      .attr('r', 5)
      .attr('fill', legendFill[k])
      .attr('stroke', legendStroke[k]).attr('stroke-width', 0.8);
    svg.append('text')
      .attr('x', legendX[k] + 15).attr('y', 877)
      .attr('font-family', font).attr('font-size', 18).attr('fill', '#222')
      .text(lab);
});

</script>

</body>
